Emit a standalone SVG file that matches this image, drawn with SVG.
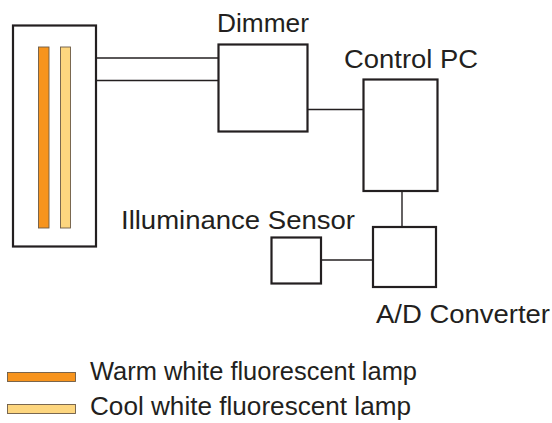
<svg xmlns="http://www.w3.org/2000/svg" width="552" height="423" viewBox="0 0 552 423">
<style>
.box{fill:#fff;stroke:#231f20;stroke-width:2.2}
.wire{fill:none;stroke:#231f20;stroke-width:1.4}
.warm{fill:#f7941d;stroke:#6d5b45;stroke-width:0.9}
.cool{fill:#fdd67f;stroke:#6d5b45;stroke-width:0.9}
text{font-family:"Liberation Sans",Arial,sans-serif;font-size:26px;fill:#231f20}
</style>
<rect width="552" height="423" fill="#fff"/>
<g id="connectors">
<line class="wire" x1="96" y1="58" x2="219" y2="58"/>
<line class="wire" x1="96" y1="80.5" x2="219" y2="80.5"/>
<line class="wire" x1="308" y1="109.5" x2="364" y2="109.5"/>
<line class="wire" x1="402" y1="191" x2="402" y2="227"/>
<line class="wire" x1="321" y1="260" x2="374" y2="260"/>
</g>
<g id="lamp-fixture">
<rect class="box" x="13" y="25.5" width="83" height="221"/>
<rect class="warm" x="38.5" y="47" width="10.5" height="181"/>
<rect class="cool" x="60.5" y="47" width="10" height="181"/>
</g>
<g id="dimmer">
<rect class="box" x="218.5" y="44.5" width="89" height="87"/>
<text x="217" y="32" textLength="92" lengthAdjust="spacingAndGlyphs">Dimmer</text>
</g>
<g id="control-pc">
<rect class="box" x="363.5" y="79.5" width="74" height="111.5"/>
<text x="344" y="67.5" textLength="134" lengthAdjust="spacingAndGlyphs">Control PC</text>
</g>
<g id="ad-converter">
<rect class="box" x="373" y="227" width="63" height="60"/>
<text x="376" y="322.5" textLength="174" lengthAdjust="spacingAndGlyphs">A/D Converter</text>
</g>
<g id="illuminance-sensor">
<rect class="box" x="271.5" y="237.5" width="49.5" height="46"/>
<text x="121" y="228.5" textLength="234" lengthAdjust="spacingAndGlyphs">Illuminance Sensor</text>
</g>
<g id="legend">
<rect class="warm" x="7.5" y="372.5" width="68" height="9"/>
<text x="90" y="380" textLength="327" lengthAdjust="spacingAndGlyphs">Warm white fluorescent lamp</text>
<rect class="cool" x="7.5" y="404.5" width="68" height="9"/>
<text x="90" y="415" textLength="321" lengthAdjust="spacingAndGlyphs">Cool white fluorescent lamp</text>
</g>
</svg>
